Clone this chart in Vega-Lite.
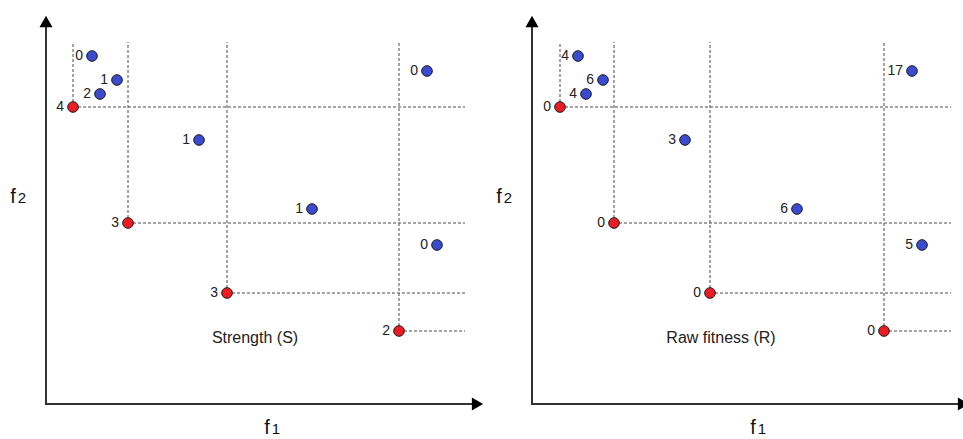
{
  "$schema": "https://vega.github.io/schema/vega-lite/v6.json",
  "padding": 0,
  "spacing": 0,
  "bounds": "flush",
  "config": {"view": {"stroke": null}, "font": "Liberation Sans"},
  "data": {"values": [
    {"panel": "A", "kind": "red", "x": 27, "y": 298, "label": "4"},
    {"panel": "A", "kind": "red", "x": 82, "y": 182, "label": "3"},
    {"panel": "A", "kind": "red", "x": 181, "y": 112, "label": "3"},
    {"panel": "A", "kind": "red", "x": 353, "y": 74, "label": "2"},
    {"panel": "A", "kind": "blue", "x": 46, "y": 349, "label": "0"},
    {"panel": "A", "kind": "blue", "x": 71, "y": 325, "label": "1"},
    {"panel": "A", "kind": "blue", "x": 54, "y": 311, "label": "2"},
    {"panel": "A", "kind": "blue", "x": 153, "y": 265, "label": "1"},
    {"panel": "A", "kind": "blue", "x": 266, "y": 196, "label": "1"},
    {"panel": "A", "kind": "blue", "x": 381, "y": 334, "label": "0"},
    {"panel": "A", "kind": "blue", "x": 391, "y": 160, "label": "0"},
    {"panel": "A", "kind": "caption", "x": 209, "y": 67, "label": "Strength (S)"},
    {"panel": "A", "kind": "f", "x": -33, "y": 202, "label": "f"},
    {"panel": "A", "kind": "sub", "x": -24, "y": 202, "label": "2"},
    {"panel": "A", "kind": "f", "x": 221, "y": -29, "label": "f"},
    {"panel": "A", "kind": "sub", "x": 230, "y": -29, "label": "1"},
    {"panel": "A", "kind": "xaxis", "x": 0, "y": 1, "x2": 430},
    {"panel": "A", "kind": "yaxis", "x": 0, "y": 0, "y2": 382},
    {"panel": "A", "kind": "arrowx", "x": 431.5, "y": 1},
    {"panel": "A", "kind": "arrowy", "x": 0, "y": 383.5},
    {"panel": "B", "kind": "red", "x": 28, "y": 298, "label": "0"},
    {"panel": "B", "kind": "red", "x": 82, "y": 182, "label": "0"},
    {"panel": "B", "kind": "red", "x": 178, "y": 112, "label": "0"},
    {"panel": "B", "kind": "red", "x": 352, "y": 74, "label": "0"},
    {"panel": "B", "kind": "blue", "x": 46, "y": 349, "label": "4"},
    {"panel": "B", "kind": "blue", "x": 71, "y": 325, "label": "6"},
    {"panel": "B", "kind": "blue", "x": 54, "y": 311, "label": "4"},
    {"panel": "B", "kind": "blue", "x": 153, "y": 265, "label": "3"},
    {"panel": "B", "kind": "blue", "x": 265, "y": 196, "label": "6"},
    {"panel": "B", "kind": "blue", "x": 380, "y": 334, "label": "17"},
    {"panel": "B", "kind": "blue", "x": 390, "y": 160, "label": "5"},
    {"panel": "B", "kind": "caption", "x": 189, "y": 67, "label": "Raw fitness (R)"},
    {"panel": "B", "kind": "f", "x": -33, "y": 202, "label": "f"},
    {"panel": "B", "kind": "sub", "x": -24, "y": 202, "label": "2"},
    {"panel": "B", "kind": "f", "x": 221, "y": -29, "label": "f"},
    {"panel": "B", "kind": "sub", "x": 230, "y": -29, "label": "1"},
    {"panel": "B", "kind": "xaxis", "x": 0, "y": 1, "x2": 430},
    {"panel": "B", "kind": "yaxis", "x": 0, "y": 0, "y2": 382},
    {"panel": "B", "kind": "arrowx", "x": 431.5, "y": 1},
    {"panel": "B", "kind": "arrowy", "x": 0, "y": 383.5}
  ]},
  "facet": {"column": {"field": "panel", "type": "nominal", "header": null, "sort": null}},
  "spec": {
    "width": 486,
    "height": 439,
    "layer": [
      {
        "transform": [{"filter": "datum.kind === 'red'"}],
        "mark": {"type": "rule", "color": "#4a4a4a", "strokeWidth": 1, "strokeDash": [3, 2]},
        "encoding": {
          "x": {"field": "x", "type": "quantitative", "scale": {"domain": [-46, 440], "nice": false, "zero": false}, "axis": null},
          "x2": {"datum": 419},
          "y": {"field": "y", "type": "quantitative", "scale": {"domain": [-34, 405], "nice": false, "zero": false}, "axis": null}
        }
      },
      {
        "transform": [{"filter": "datum.kind === 'red'"}],
        "mark": {"type": "rule", "color": "#4a4a4a", "strokeWidth": 1, "strokeDash": [3, 2]},
        "encoding": {
          "x": {"field": "x", "type": "quantitative", "axis": null},
          "y": {"field": "y", "type": "quantitative", "axis": null},
          "y2": {"datum": 363}
        }
      },
      {
        "transform": [{"filter": "datum.kind === 'xaxis'"}],
        "mark": {"type": "rule", "color": "#333", "strokeWidth": 2},
        "encoding": {
          "x": {"field": "x", "type": "quantitative", "axis": null},
          "x2": {"field": "x2"},
          "y": {"field": "y", "type": "quantitative", "axis": null}
        }
      },
      {
        "transform": [{"filter": "datum.kind === 'yaxis'"}],
        "mark": {"type": "rule", "color": "#333", "strokeWidth": 2},
        "encoding": {
          "x": {"field": "x", "type": "quantitative", "axis": null},
          "y": {"field": "y", "type": "quantitative", "axis": null},
          "y2": {"field": "y2"}
        }
      },
      {
        "transform": [{"filter": "datum.kind === 'arrowx'"}],
        "mark": {"type": "point", "shape": "triangle-right", "filled": true, "color": "#000", "size": 169, "opacity": 1},
        "encoding": {
          "x": {"field": "x", "type": "quantitative", "axis": null},
          "y": {"field": "y", "type": "quantitative", "axis": null}
        }
      },
      {
        "transform": [{"filter": "datum.kind === 'arrowy'"}],
        "mark": {"type": "point", "shape": "triangle-up", "filled": true, "color": "#000", "size": 169, "opacity": 1},
        "encoding": {
          "x": {"field": "x", "type": "quantitative", "axis": null},
          "y": {"field": "y", "type": "quantitative", "axis": null}
        }
      },
      {
        "transform": [{"filter": "datum.kind === 'red' || datum.kind === 'blue'"}],
        "mark": {"type": "point", "shape": "circle", "filled": true, "size": 113, "stroke": "#1a1a1a", "strokeWidth": 1, "opacity": 1},
        "encoding": {
          "x": {"field": "x", "type": "quantitative", "axis": null},
          "y": {"field": "y", "type": "quantitative", "axis": null},
          "fill": {"field": "kind", "type": "nominal", "scale": {"domain": ["red", "blue"], "range": ["#ec1c24", "#3a4bd0"]}, "legend": null}
        }
      },
      {
        "transform": [{"filter": "datum.kind === 'red' || datum.kind === 'blue'"}],
        "mark": {"type": "text", "align": "right", "baseline": "middle", "dx": -9, "fontSize": 14, "color": "#222"},
        "encoding": {
          "x": {"field": "x", "type": "quantitative", "axis": null},
          "y": {"field": "y", "type": "quantitative", "axis": null},
          "text": {"field": "label"}
        }
      },
      {
        "transform": [{"filter": "datum.kind === 'caption'"}],
        "mark": {"type": "text", "align": "center", "baseline": "middle", "fontSize": 16, "color": "#222"},
        "encoding": {
          "x": {"field": "x", "type": "quantitative", "axis": null},
          "y": {"field": "y", "type": "quantitative", "axis": null},
          "text": {"field": "label"}
        }
      },
      {
        "transform": [{"filter": "datum.kind === 'f'"}],
        "mark": {"type": "text", "align": "center", "baseline": "alphabetic", "fontSize": 20, "color": "#111"},
        "encoding": {
          "x": {"field": "x", "type": "quantitative", "axis": null},
          "y": {"field": "y", "type": "quantitative", "axis": null},
          "text": {"field": "label"}
        }
      },
      {
        "transform": [{"filter": "datum.kind === 'sub'"}],
        "mark": {"type": "text", "align": "center", "baseline": "alphabetic", "fontSize": 15, "color": "#111"},
        "encoding": {
          "x": {"field": "x", "type": "quantitative", "axis": null},
          "y": {"field": "y", "type": "quantitative", "axis": null},
          "text": {"field": "label"}
        }
      }
    ]
  }
}
